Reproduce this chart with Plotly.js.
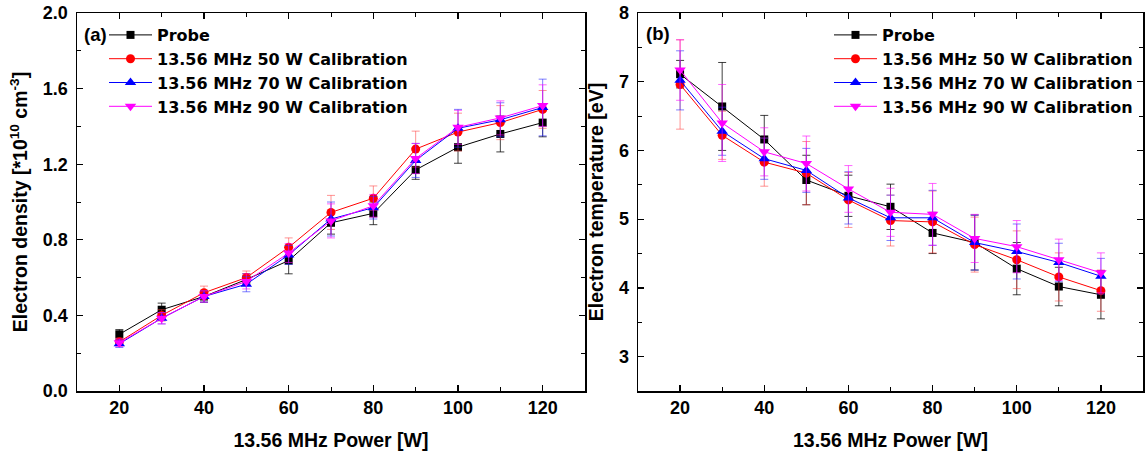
<!DOCTYPE html>
<html>
<head>
<meta charset="utf-8">
<script src="https://cdn.plot.ly/plotly-3.0.1.min.js"></script>
<style>html,body{margin:0;padding:0;background:#fff;}#chart{width:1146px;height:457px;}</style>
</head>
<body>
<div id="chart"></div>
<script>
// ---- data ----
const power = [20, 30, 40, 50, 60, 70, 80, 90, 100, 110, 120];
const seriesNames = ["Probe", "13.56 MHz 50 W Calibration", "13.56 MHz 70 W Calibration", "13.56 MHz 90 W Calibration"];

// (a) electron density [1e10 cm^-3]
const densProbe = [0.30, 0.43, 0.50, 0.59, 0.69, 0.89, 0.94, 1.17, 1.29, 1.36, 1.42];
const dens50    = [0.26, 0.40, 0.52, 0.60, 0.76, 0.945, 1.02, 1.28, 1.37, 1.42, 1.49];
const dens70    = [0.25, 0.385, 0.50, 0.565, 0.72, 0.91, 0.97, 1.22, 1.39, 1.435, 1.50];
const dens90    = [0.255, 0.385, 0.50, 0.58, 0.73, 0.90, 0.98, 1.23, 1.395, 1.445, 1.51];
const densProbeErr = [0.025, 0.035, 0.03, 0.03, 0.07, 0.06, 0.06, 0.05, 0.085, 0.095, 0.075];
const dens50Err    = [0.02, 0.03, 0.035, 0.035, 0.05, 0.09, 0.065, 0.095, 0.10, 0.09, 0.10];
const dens70Err    = [0.02, 0.03, 0.03, 0.04, 0.05, 0.09, 0.06, 0.09, 0.10, 0.09, 0.15];
const dens90Err    = [0.02, 0.03, 0.03, 0.04, 0.05, 0.09, 0.06, 0.08, 0.09, 0.09, 0.11];

// (b) electron temperature [eV]
const tempProbe = [7.11, 6.64, 6.16, 5.57, 5.34, 5.18, 4.80, 4.66, 4.28, 4.02, 3.90];
const temp50    = [6.96, 6.22, 5.83, 5.67, 5.28, 4.98, 4.96, 4.63, 4.41, 4.16, 3.96];
const temp70    = [7.02, 6.28, 5.88, 5.71, 5.31, 5.02, 5.02, 4.66, 4.53, 4.37, 4.17];
const temp90    = [7.17, 6.40, 5.98, 5.81, 5.44, 5.10, 5.07, 4.72, 4.60, 4.41, 4.22];
const tempProbeErr = [0.20, 0.64, 0.35, 0.36, 0.30, 0.33, 0.30, 0.40, 0.38, 0.28, 0.35];
const temp50Err    = [0.65, 0.35, 0.35, 0.46, 0.40, 0.37, 0.45, 0.40, 0.42, 0.35, 0.30];
const temp70Err    = [0.43, 0.35, 0.30, 0.32, 0.38, 0.33, 0.40, 0.40, 0.40, 0.28, 0.26];
const temp90Err    = [0.44, 0.56, 0.35, 0.40, 0.34, 0.35, 0.45, 0.35, 0.38, 0.30, 0.29];

// ---- styles ----
const colors   = ["#000000", "#ff0000", "#0000ff", "#ff00ff"];
const errColors = ["rgba(0,0,0,0.75)", "rgba(255,60,60,0.55)", "rgba(40,40,255,0.6)", "rgba(255,0,255,0.6)"];
const symbols  = ["square", "circle", "triangle-up", "triangle-down"];
const sizes    = [8, 9, 10, 10];
const FONT = "Liberation Sans, Arial, sans-serif";
const LEGFONT = "DejaVu Sans, sans-serif";

function mk(y, err, i, xa, ya, leg) {
  return {
    x: power, y: y, type: "scatter", mode: "lines+markers",
    name: seriesNames[i], xaxis: xa, yaxis: ya, legend: leg,
    line: {color: colors[i], width: 1},
    marker: {symbol: symbols[i], size: sizes[i], color: colors[i], line: {width: 0}},
    error_y: {type: "data", array: err, visible: true, color: errColors[i], thickness: 1, width: 4}
  };
}

const data = [
  mk(densProbe, densProbeErr, 0, "x", "y", "legend"),
  mk(dens50, dens50Err, 1, "x", "y", "legend"),
  mk(dens70, dens70Err, 2, "x", "y", "legend"),
  mk(dens90, dens90Err, 3, "x", "y", "legend"),
  mk(tempProbe, tempProbeErr, 0, "x2", "y2", "legend2"),
  mk(temp50, temp50Err, 1, "x2", "y2", "legend2"),
  mk(temp70, temp70Err, 2, "x2", "y2", "legend2"),
  mk(temp90, temp90Err, 3, "x2", "y2", "legend2")
];

const W = 1146, H = 457, ML = 77, MR = 3, MT = 13, MB = 66;
const PW = W - ML - MR;
function px(p) { return (p - ML) / PW; }
function py(p) { return (H - MB - p) / (H - MT - MB); }

const titleFont = {family: FONT, size: 19.5, color: "#000", weight: "bold"};
const axBase = {
  showline: true, linecolor: "#000", linewidth: 1.5, mirror: "ticks",
  ticks: "inside", ticklen: 6, tickwidth: 1.2, tickcolor: "#000",
  showgrid: false, zeroline: false,
  tickfont: {family: FONT, size: 18, color: "#000", weight: "bold"}
};
function ax(extra) { return Object.assign(JSON.parse(JSON.stringify(axBase)), extra); }

const legBase = {
  bgcolor: "rgba(0,0,0,0)", borderwidth: 0, xanchor: "left", yanchor: "top",
  font: {family: LEGFONT, size: 16, color: "#000", weight: "bold"},
  tracegroupgap: 0, itemclick: false, itemwidth: 43
};

const layout = {
  width: W, height: H,
  margin: {l: ML, r: MR, t: MT, b: MB},
  paper_bgcolor: "#fff", plot_bgcolor: "#fff",
  showlegend: true,
  xaxis: ax({domain: [0, px(585)], range: [10, 130], anchor: "y",
    tickvals: [20, 40, 60, 80, 100, 120],
    minor: {dtick: 10, tick0: 0, ticks: "inside", ticklen: 4, tickcolor: "#000", tickwidth: 1},
    title: {text: "13.56 MHz Power [W]", standoff: 16, font: titleFont}}),
  yaxis: ax({domain: [0, 1], range: [0, 2], anchor: "x", ticklabelstandoff: 4,
    tickvals: [0, 0.4, 0.8, 1.2, 1.6, 2.0], ticktext: ["0.0", "0.4", "0.8", "1.2", "1.6", "2.0"],
    minor: {dtick: 0.2, tick0: 0, ticks: "inside", ticklen: 4, tickcolor: "#000", tickwidth: 1},
    title: {text: "Electron density [*10<sup>10</sup> cm<sup>-3</sup>]", standoff: 10, font: titleFont}}),
  xaxis2: ax({domain: [px(638), 1], range: [10, 130], anchor: "y2",
    tickvals: [20, 40, 60, 80, 100, 120],
    minor: {dtick: 10, tick0: 0, ticks: "inside", ticklen: 4, tickcolor: "#000", tickwidth: 1},
    title: {text: "13.56 MHz Power [W]", standoff: 16, font: titleFont}}),
  yaxis2: ax({domain: [0, 1], range: [2.5, 8], anchor: "x2", ticklabelstandoff: 4,
    tickvals: [3, 4, 5, 6, 7, 8],
    minor: {dtick: 0.5, tick0: 0, ticks: "inside", ticklen: 4, tickcolor: "#000", tickwidth: 1},
    title: {text: "Electron temperature [eV]", standoff: 10, font: titleFont}}),
  legend: Object.assign({}, legBase, {x: px(104), y: py(18)}),
  legend2: Object.assign({}, legBase, {x: px(829), y: py(18)}),
  annotations: [
    {text: "(a)", xref: "paper", yref: "paper", x: px(82), y: py(34), xanchor: "left", yanchor: "middle", showarrow: false,
     font: {family: FONT, size: 18.5, color: "#000", weight: "bold"}},
    {text: "(b)", xref: "paper", yref: "paper", x: px(644), y: py(33), xanchor: "left", yanchor: "middle", showarrow: false,
     font: {family: FONT, size: 18.5, color: "#000", weight: "bold"}}
  ]
};

Plotly.newPlot("chart", data, layout, {displayModeBar: false, staticPlot: true});
</script>
</body>
</html>
